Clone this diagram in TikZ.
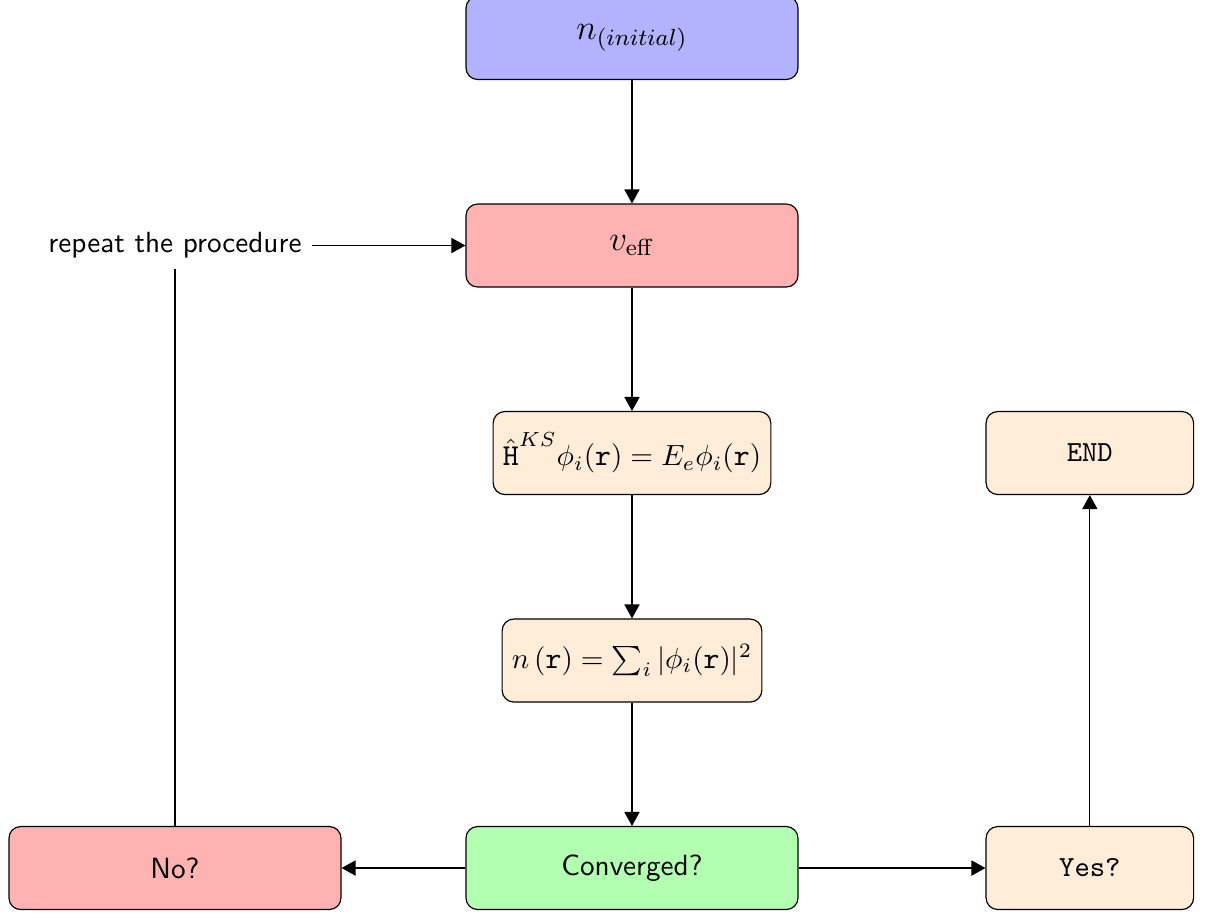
\documentclass[tikz,border=0pt]{standalone}
\usetikzlibrary{arrows.meta}
\begin{document}
\begin{tikzpicture}[
  font=\sffamily,
  box/.style={draw, rounded corners=4pt, minimum height=1cm, align=center},
  widebox/.style={box, minimum width=4cm},
  smallbox/.style={box, minimum width=2.5cm},
  eqfont/.style={font=\fontsize{10.4pt}{12.5pt}\selectfont},
  arr/.style={-{Triangle[length=4.8pt,width=5.2pt]}},
]
\useasboundingbox (0,0) rectangle (14.65,-11.048);
\def\cx{7.614}
\node[widebox, fill=blue!30, font=\large] (init) at (\cx,-0.458) {$n_{(initial)}$};
\node[widebox, fill=red!30, font=\large] (veff) at (\cx,-2.958) {$v_{\mathrm{eff}}$};
\node[box, fill=orange!15, eqfont] (ks) at (\cx,-5.458) {$\hat{\texttt{H}}^{KS}\phi_i(\texttt{r}) = E_e\phi_i(\texttt{r})$};
\node[box, fill=orange!15, eqfont] (dens) at (\cx,-7.958) {$n\left(\texttt{r}\right) = \sum_i|\phi_i(\texttt{r})|^2$};
\node[widebox, fill=green!30] (conv) at (\cx,-10.458) {Converged?};
\node[widebox, fill=red!30] (no) at (2.108,-10.458) {No?};
\node[smallbox, fill=orange!15] (yes) at (13.13,-10.458) {\texttt{Yes?}};
\node[smallbox, fill=orange!15] (end) at (13.13,-5.458) {\texttt{END}};
\node (rep) at (2.108,-2.958) {repeat the procedure};
\draw[arr] (init) -- (veff);
\draw[arr] (veff) -- (ks);
\draw[arr] (ks) -- (dens);
\draw[arr] (dens) -- (conv);
\draw[arr] (conv) -- (no);
\draw[arr] (conv) -- (yes);
\draw[arr] (yes) -- (end);
\draw (no) -- (rep);
\draw[arr] (rep) -- (veff);
\end{tikzpicture}
\end{document}
